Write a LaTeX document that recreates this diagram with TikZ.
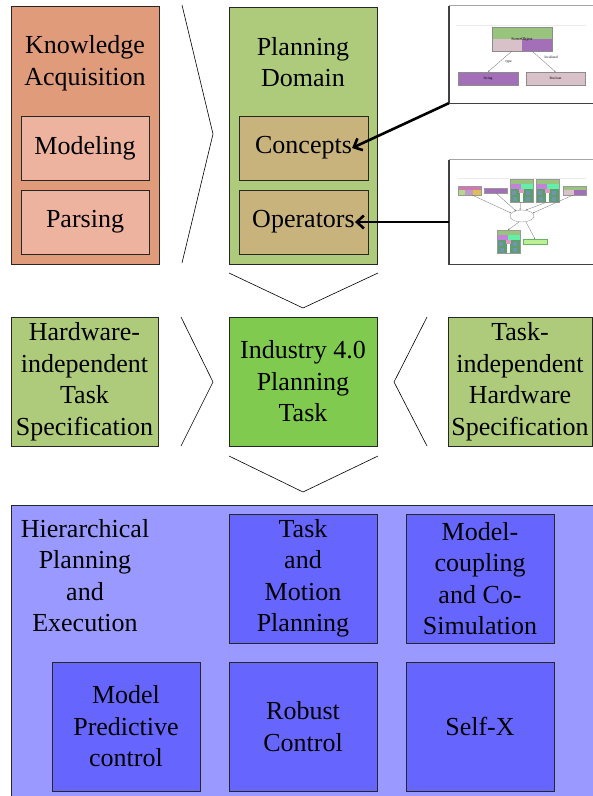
\documentclass[tikz,border=0pt]{standalone}
\usepackage{fontspec}
\setmainfont{Liberation Serif}
\usetikzlibrary{arrows.meta}

\definecolor{kaouter}{HTML}{E09B7B}
\definecolor{kainner}{HTML}{EDB39F}
\definecolor{pdgreen}{HTML}{AECB7B}
\definecolor{tan}{HTML}{C9B37D}
\definecolor{indgreen}{HTML}{80CA50}
\definecolor{hpeouter}{HTML}{9999FF}
\definecolor{hpeinner}{HTML}{6666FF}
% colours of the small class diagrams
\definecolor{cgreen}{HTML}{98C47E}
\definecolor{cpink}{HTML}{D8C1C8}
\definecolor{cpurple}{HTML}{A26FB8}
\definecolor{cmagenta}{HTML}{D277B2}
\definecolor{clime}{HTML}{B4D98A}
\definecolor{cyellow}{HTML}{DDBF55}
\definecolor{cmint}{HTML}{62F0A8}
\definecolor{cviolet}{HTML}{C383DA}
\definecolor{cdark}{HTML}{5E9E6E}
\definecolor{cblue}{HTML}{7393B2}
\definecolor{crose}{HTML}{E696C6}
\definecolor{clight}{HTML}{BDF095}

\begin{document}
\begin{tikzpicture}[x=1pt,y=-1pt,
  box/.style={draw=black!85, line width=0.7pt, inner sep=0pt},
  lbl/.style={font=\fontsize{26}{31.5}\selectfont, align=center, inner sep=0pt},
  chev/.style={draw=black, line width=0.6pt},
  link/.style={line width=2.6pt, -{Straight Barb[length=7pt,width=13pt]}},
  thumb/.style={fill=white, inner sep=0pt},
  thumbedge/.style={draw=black!75, line width=1.4pt},
  tiny/.style={font=\fontsize{3.6}{4}\selectfont, inner sep=0.4pt},
  cls/.style={draw=black!45, line width=0.3pt},
  rel/.style={draw=black!55, line width=0.3pt, -{Stealth[length=1.6pt,width=1.4pt]}},
  stackbox/.pic={
    \fill[cgreen] (0,0) rectangle (23,5);
    \fill[cviolet] (0,5) rectangle (11,10);
    \fill[cmint] (11,5) rectangle (23,10);
    \fill[cdark] (0,10) rectangle (10,23);
    \fill[cdark] (13,10) rectangle (23,23);
    \fill[cblue] (2,12) rectangle (6,16);
    \fill[cblue] (16,12) rectangle (20,16);
    \fill[crose] (9,10) rectangle (14,14);
    \fill[cblue] (3,18) rectangle (7,22);
    \fill[cblue] (16,18) rectangle (20,22);
    \draw[black!40, line width=0.2pt] (0,0) rectangle (23,23);
  }]
\useasboundingbox (0,0) rectangle (593,796);
\clip (0,0) rectangle (593,796);

% ---------- top row ----------
\node[box, fill=kaouter, minimum width=148, minimum height=258] (ka) at (85,135) {};
\node[lbl, anchor=north] (katitle) at (85,35.5) {Knowledge\\Acquisition};
\node[box, fill=kainner, minimum width=128, minimum height=64] (modeling) at (85,148) {};
\node[lbl] (modelingLbl) at (modeling.center) {Modeling};
\node[box, fill=kainner, minimum width=128, minimum height=64] (parsing) at (85,222) {};
\node[lbl] (parsingLbl) at (parsing.center) {Parsing};

\draw[chev] (182,5) -- (213,134) -- (182,263);

\node[box, fill=pdgreen, minimum width=148, minimum height=257] (pd) at (303,135.5) {};
\node[lbl, anchor=north] (pdtitle) at (303,37) {Planning\\Domain};
\node[box, fill=tan, minimum width=129, minimum height=64] (concepts) at (303.5,148) {};
\node[lbl] (conceptsLbl) at (concepts.center) {Concepts};
\node[box, fill=tan, minimum width=129, minimum height=64] (operators) at (303.5,222) {};
\node[lbl] (operatorsLbl) at (operators.center) {Operators};

% small class diagram of the concepts
\node[thumb, minimum width=160, minimum height=97] (thumbA) at (529,54.5) {};
\draw[black!35, line width=0.8pt] (thumbA.north west) -- (thumbA.north east);
\draw[thumbedge] (thumbA.north west) -- (thumbA.south west) -- (thumbA.south east);
\draw[black!8, line width=0.4pt] (456,25) -- (586,25);
\fill[cgreen] (492,27) rectangle (552,39);
\fill[cpink] (492,39) rectangle (522,51);
\fill[cpurple] (522,39) rectangle (552,51);
\draw[cls] (492,27) rectangle (552,51);
\node[tiny, font=\fontsize{4.2}{5}\selectfont] (sceneObj) at (522,39) {SceneObject};
\node[cls, fill=cpurple, minimum width=60, minimum height=13, inner sep=0pt] (strBox) at (488,78.5) {};
\node[tiny] at (strBox.center) {String};
\node[cls, fill=cpink, minimum width=59, minimum height=13, inner sep=0pt] (boolBox) at (555.5,78.5) {};
\node[tiny] at (boolBox.center) {Boolean};
\draw[rel] (512,51) -- (strBox.north);
\draw[rel] (532,51) -- (boolBox.north);
\node[tiny, anchor=west] at (505,62) {type};
\node[tiny, anchor=west] at (544,57) {localized};

% small graph of the operators
\node[thumb, minimum width=160, minimum height=104] (thumbB) at (529,212) {};
\draw[black!35, line width=0.8pt] (thumbB.north west) -- (thumbB.north east);
\draw[thumbedge] (thumbB.north west) -- (thumbB.south west) -- (thumbB.south east);
\draw[black!8, line width=0.4pt] (458,178) -- (586,178);
\fill[cmagenta] (458,186) rectangle (481,190);
\fill[clime] (458,190) rectangle (465,195);
\fill[cpurple!70] (465,190) rectangle (473,195);
\fill[cyellow] (473,190) rectangle (481,195);
\draw[black!40, line width=0.2pt] (458,186) rectangle (481,195);
\fill[cpurple] (484,188) rectangle (507,193);
\draw[black!40, line width=0.2pt] (484,188) rectangle (507,193);
\pic at (510,179) {stackbox};
\pic at (536,179) {stackbox};
\fill[cgreen] (563,186) rectangle (586,190);
\fill[cpink] (563,190) rectangle (574,195);
\fill[cpurple] (574,190) rectangle (586,195);
\draw[black!40, line width=0.2pt] (563,186) rectangle (586,195);
\draw[black!50, line width=0.3pt, fill=white] (522,216) ellipse [x radius=12, y radius=6];
\draw[rel] (472,195) -- (511,213);
\draw[rel] (496,193) -- (516,211);
\draw[rel] (521,202) -- (520,210);
\draw[rel] (547,202) -- (526,210);
\draw[rel] (573,195) -- (533,213);
\draw[rel] (519,222) -- (508,230);
\draw[rel] (526,222) -- (535,239);
\pic at (497,230) {stackbox};
\fill[clight] (523,239) rectangle (547,244);
\draw[green!50!black!60, line width=0.2pt] (523,239) rectangle (547,244);

\draw[link] (thumbA.south west) -- (conceptsLbl.east);
\draw[link] (operatorsLbl.east -| thumbB.west) -- (operatorsLbl.east);

\draw[chev] (229,273) -- (303,308) -- (378,273);

% ---------- middle row ----------
\node[box, fill=pdgreen, minimum width=147, minimum height=129, lbl] (hwspec) at (84.5,381.5)
  {Hardware-\\independent\\Task\\Specification};
\draw[chev] (181,317) -- (213,382) -- (181,446);
\node[box, fill=indgreen, minimum width=148, minimum height=129, lbl] (task) at (303,381.5)
  {Industry 4.0\\Planning\\Task};
\draw[chev] (427,317) -- (394,382) -- (427,446);
\node[box, fill=pdgreen, minimum width=144, minimum height=129, lbl] (hwind) at (520,381.5)
  {Task-\\independent\\Hardware\\Specification};

\draw[chev] (229,456) -- (303,492) -- (378,456);

% ---------- bottom block ----------
\node[box, fill=hpeouter, minimum width=600, minimum height=310] (hpe) at (311,660) {};
\node[lbl, anchor=north] (hpetitle) at (85,519) {Hierarchical\\Planning\\and\\Execution};
\node[box, fill=hpeinner, minimum width=148, minimum height=129, lbl] (tmp) at (303,578.5)
  {Task\\and\\Motion\\Planning};
\node[box, fill=hpeinner, minimum width=148, minimum height=129, lbl] (cosim) at (480,578.5)
  {Model-\\coupling\\and Co-\\Simulation};
\node[box, fill=hpeinner, minimum width=148, minimum height=129, lbl] (mpc) at (126,726.5)
  {Model\\Predictive\\control};
\node[box, fill=hpeinner, minimum width=148, minimum height=129, lbl] (robust) at (303,726.5)
  {Robust\\Control};
\node[box, fill=hpeinner, minimum width=148, minimum height=129, lbl] (selfx) at (480,726.5)
  {Self-X};
\end{tikzpicture}
\end{document}
